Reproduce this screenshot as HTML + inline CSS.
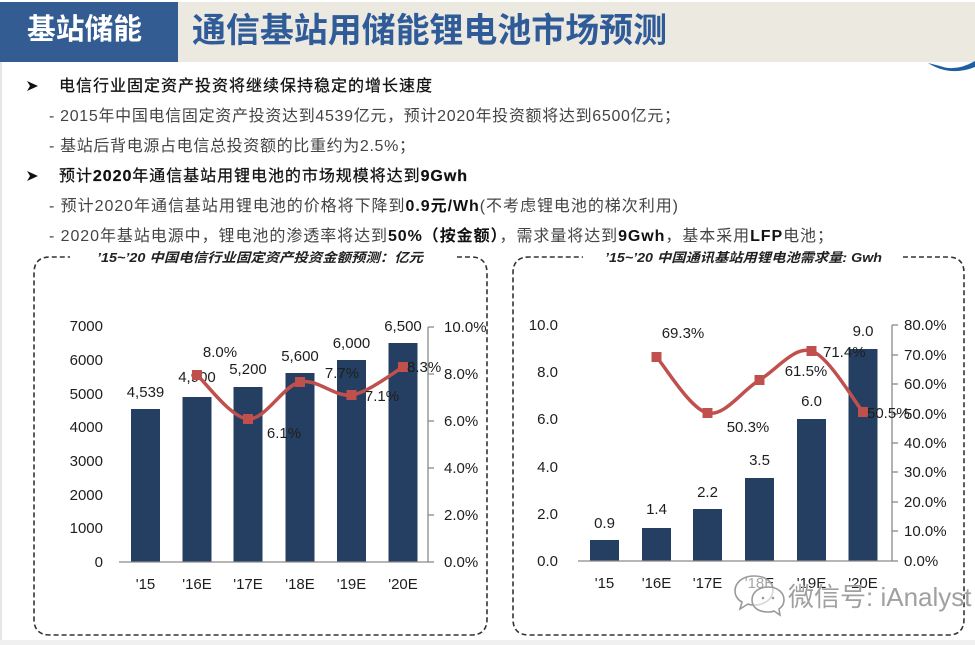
<!DOCTYPE html>
<html>
<head>
<meta charset="utf-8">
<style>
html,body{margin:0;padding:0;background:#fff;}
body{width:975px;height:645px;overflow:hidden;position:relative;}
svg{position:absolute;left:0;top:0;}
.t{font-family:"Liberation Sans","Noto Sans CJK SC",sans-serif;}
</style>
</head>
<body>
<svg width="975" height="645" viewBox="0 0 975 645" xmlns="http://www.w3.org/2000/svg">
  <!-- header -->
  <rect x="0" y="0" width="975" height="645" fill="#ffffff"/>
  <rect x="178" y="2" width="797" height="60" fill="#ECE9E1"/>
  <rect x="0" y="2" width="178" height="60" fill="#325C92"/>
  <text class="t" x="27" y="39" font-size="29" font-weight="bold" fill="#ffffff" textLength="115" lengthAdjust="spacingAndGlyphs">基站储能</text>
  <text class="t" x="192" y="42" font-size="34" font-weight="bold" fill="#2F5C98" textLength="475" lengthAdjust="spacingAndGlyphs">通信基站用储能锂电池市场预测</text>
  <path d="M928 63 Q950 77 975 67 L975 61 Q956 72 940 66 Z" fill="#1F5FA0"/>
  <rect x="0" y="62" width="2" height="583" fill="#e6e6e6"/>
  <rect x="0" y="640" width="975" height="5" fill="#f0f0f0"/>

  <!-- bullet text -->
  <g class="t" font-size="16">
    <path d="M27 81 L38 86 L27 91 L30 86 Z" fill="#111"/>
    <text x="59" y="91" fill="#111" stroke="#111" stroke-width="0.25" textLength="373" lengthAdjust="spacing">电信行业固定资产投资将继续保持稳定的增长速度</text>
    <text x="49" y="121" fill="#444" textLength="631" lengthAdjust="spacing">- 2015年中国电信固定资产投资达到4539亿元，预计2020年投资额将达到6500亿元；</text>
    <text x="49" y="151" fill="#444" textLength="366" lengthAdjust="spacing">- 基站后背电源占电信总投资额的比重约为2.5%；</text>
    <path d="M27 171 L38 176 L27 181 L30 176 Z" fill="#111"/>
    <text x="59" y="181" fill="#111" stroke="#111" stroke-width="0.25" textLength="408" lengthAdjust="spacing">预计<tspan font-weight="bold">2020</tspan>年通信基站用锂电池的市场规模将达到<tspan font-weight="bold">9Gwh</tspan></text>
    <text x="49" y="211" fill="#444" textLength="629" lengthAdjust="spacing">- 预计2020年通信基站用锂电池的价格将下降到<tspan font-weight="bold" fill="#111">0.9元/Wh</tspan>(不考虑锂电池的梯次利用)</text>
    <text x="49" y="241" fill="#444" textLength="784" lengthAdjust="spacing">- 2020年基站电源中，锂电池的渗透率将达到<tspan font-weight="bold" fill="#111">50%（按金额）</tspan>，需求量将达到<tspan font-weight="bold" fill="#111">9Gwh</tspan>，基本采用<tspan font-weight="bold" fill="#111">LFP</tspan>电池；</text>
  </g>

  <!-- dashed boxes -->
  <path d="M457 257 L471 257 Q487 257 487 273 L487 619 Q487 635 471 635 L50 635 Q34 635 34 619 L34 273 Q34 257 50 257 L70 257" fill="none" stroke="#333" stroke-width="1.6" stroke-dasharray="5 3"/>
  <path d="M903 257 L948 257 Q964 257 964 273 L964 619 Q964 635 948 635 L529 635 Q513 635 513 619 L513 273 Q513 257 529 257 L583 257" fill="none" stroke="#333" stroke-width="1.6" stroke-dasharray="5 3"/>
  <text class="t" x="97" y="262" font-size="13" font-weight="bold" font-style="italic" fill="#222" textLength="326" lengthAdjust="spacingAndGlyphs">’15~’20  中国电信行业固定资产投资金额预测：亿元</text>
  <text class="t" x="605" y="262" font-size="13" font-weight="bold" font-style="italic" fill="#222" textLength="277" lengthAdjust="spacingAndGlyphs">’15~’20 中国通讯基站用锂电池需求量: Gwh</text>

  <!-- chart 1 -->
  <g fill="#243F61">
    <rect x="131" y="409" width="29" height="153"/>
    <rect x="182.5" y="397" width="29" height="165"/>
    <rect x="233.5" y="387" width="29" height="175"/>
    <rect x="285.5" y="373" width="29" height="189"/>
    <rect x="337" y="360" width="29" height="202"/>
    <rect x="388.5" y="343" width="29" height="219"/>
  </g>
  <line x1="119" y1="562" x2="428" y2="562" stroke="#8a8a8a" stroke-width="1.3"/>
  <line x1="428" y1="327" x2="428" y2="562" stroke="#8a8a8a" stroke-width="1.3"/>
  <g stroke="#8a8a8a" stroke-width="1.3">
    <line x1="428" y1="327" x2="434" y2="327"/>
    <line x1="428" y1="374" x2="434" y2="374"/>
    <line x1="428" y1="421" x2="434" y2="421"/>
    <line x1="428" y1="468" x2="434" y2="468"/>
    <line x1="428" y1="515" x2="434" y2="515"/>
    <line x1="428" y1="562" x2="434" y2="562"/>
  </g>
  <g class="t" font-size="15" fill="#1e1e1e" text-anchor="end">
    <text x="103" y="331">7000</text>
    <text x="103" y="365">6000</text>
    <text x="103" y="399">5000</text>
    <text x="103" y="432">4000</text>
    <text x="103" y="466">3000</text>
    <text x="103" y="500">2000</text>
    <text x="103" y="533">1000</text>
    <text x="103" y="567">0</text>
  </g>
  <g class="t" font-size="15" fill="#1e1e1e">
    <text x="444" y="332">10.0%</text>
    <text x="444" y="379">8.0%</text>
    <text x="444" y="426">6.0%</text>
    <text x="444" y="473">4.0%</text>
    <text x="444" y="520">2.0%</text>
    <text x="444" y="567">0.0%</text>
  </g>
  <g class="t" font-size="15" fill="#1e1e1e" text-anchor="middle">
    <text x="145.5" y="589">'15</text>
    <text x="197" y="589">'16E</text>
    <text x="248" y="589">'17E</text>
    <text x="300" y="589">'18E</text>
    <text x="351.5" y="589">'19E</text>
    <text x="403" y="589">'20E</text>
    <text x="145.5" y="397">4,539</text>
    <text x="197" y="382">4,900</text>
    <text x="248" y="374">5,200</text>
    <text x="300" y="361">5,600</text>
    <text x="351.5" y="348">6,000</text>
    <text x="403" y="331">6,500</text>
  </g>
  <path d="M197 375 C205.5 382.3 230.8 417.8 248 419 C265.2 420.2 282.75 386 300 382 C317.25 378 334.3 397.5 351.5 395 C368.7 392.5 394.4 371.7 403 367" fill="none" stroke="#C0504D" stroke-width="3.5"/>
  <g fill="#C0504D">
    <rect x="192" y="370" width="10" height="10"/>
    <rect x="243" y="414" width="10" height="10"/>
    <rect x="295" y="377" width="10" height="10"/>
    <rect x="346.5" y="390" width="10" height="10"/>
    <rect x="398" y="362" width="10" height="10"/>
  </g>
  <g class="t" font-size="15" fill="#1e1e1e" text-anchor="middle">
    <text x="220" y="357">8.0%</text>
    <text x="284" y="438">6.1%</text>
    <text x="342" y="378">7.7%</text>
    <text x="382" y="401">7.1%</text>
    <text x="407" y="372" text-anchor="start">8.3%</text>
  </g>

  <!-- chart 2 -->
  <g fill="#243F61">
    <rect x="590" y="540" width="29" height="21"/>
    <rect x="642" y="528" width="29" height="33"/>
    <rect x="693" y="509" width="29" height="52"/>
    <rect x="745" y="478" width="29" height="83"/>
    <rect x="797" y="419" width="29" height="142"/>
    <rect x="848.5" y="349" width="29" height="212"/>
  </g>
  <line x1="578" y1="561" x2="892" y2="561" stroke="#8a8a8a" stroke-width="1.3"/>
  <line x1="892" y1="325" x2="892" y2="561" stroke="#8a8a8a" stroke-width="1.3"/>
  <g stroke="#8a8a8a" stroke-width="1.3">
    <line x1="892" y1="325" x2="898" y2="325"/>
    <line x1="892" y1="355" x2="898" y2="355"/>
    <line x1="892" y1="384" x2="898" y2="384"/>
    <line x1="892" y1="414" x2="898" y2="414"/>
    <line x1="892" y1="443" x2="898" y2="443"/>
    <line x1="892" y1="472" x2="898" y2="472"/>
    <line x1="892" y1="502" x2="898" y2="502"/>
    <line x1="892" y1="531" x2="898" y2="531"/>
    <line x1="892" y1="561" x2="898" y2="561"/>
  </g>
  <g class="t" font-size="15" fill="#1e1e1e" text-anchor="end">
    <text x="558" y="330">10.0</text>
    <text x="558" y="377">8.0</text>
    <text x="558" y="424">6.0</text>
    <text x="558" y="472">4.0</text>
    <text x="558" y="519">2.0</text>
    <text x="558" y="566">0.0</text>
  </g>
  <g class="t" font-size="15" fill="#1e1e1e">
    <text x="904" y="330">80.0%</text>
    <text x="904" y="360">70.0%</text>
    <text x="904" y="389">60.0%</text>
    <text x="904" y="419">50.0%</text>
    <text x="904" y="448">40.0%</text>
    <text x="904" y="477">30.0%</text>
    <text x="904" y="507">20.0%</text>
    <text x="904" y="536">10.0%</text>
    <text x="904" y="566">0.0%</text>
  </g>
  <g class="t" font-size="15" fill="#1e1e1e" text-anchor="middle">
    <text x="604.5" y="588">'15</text>
    <text x="656.5" y="588">'16E</text>
    <text x="707.5" y="588">'17E</text>
    <text x="759.5" y="588">'18E</text>
    <text x="811.5" y="588">'19E</text>
    <text x="863" y="588">'20E</text>
    <text x="604.5" y="528">0.9</text>
    <text x="656.5" y="514">1.4</text>
    <text x="707.5" y="497">2.2</text>
    <text x="759.5" y="465">3.5</text>
    <text x="811.5" y="406">6.0</text>
    <text x="863" y="336">9.0</text>
  </g>
  <path d="M656.5 357 C665 366.3 690.3 409.2 707.5 413 C724.7 416.8 742.2 390.3 759.5 380 C776.8 369.7 794.25 345.7 811.5 351 C828.75 356.3 854.4 401.8 863 412" fill="none" stroke="#C0504D" stroke-width="3.5"/>
  <g fill="#C0504D">
    <rect x="651.5" y="352" width="10" height="10"/>
    <rect x="702.5" y="408" width="10" height="10"/>
    <rect x="754.5" y="375" width="10" height="10"/>
    <rect x="806.5" y="346" width="10" height="10"/>
    <rect x="858" y="407" width="10" height="10"/>
  </g>
  <g class="t" font-size="15" fill="#1e1e1e" text-anchor="middle">
    <text x="683" y="338">69.3%</text>
    <text x="748" y="432">50.3%</text>
    <text x="806" y="376">61.5%</text>
    <text x="823" y="357" text-anchor="start">71.4%</text>
    <text x="867" y="418" text-anchor="start">50.5%</text>
  </g>

  <!-- watermark -->
  <g fill="#ffffff" fill-opacity="0.6" stroke="#9a9a9a" stroke-width="1.6">
    <path d="M754 576 C742 576 735 583 735 591 C735 596 738 600 742 602 L740 609 L748 604 C750 605 752 605 754 605 C766 605 773 598 773 590 C773 582 766 576 754 576 Z"/>
    <path d="M768 587 C758 587 752 593 752 600 C752 607 758 612 768 612 C770 612 772 612 774 611 L780 615 L779 609 C782 607 784 604 784 600 C784 593 778 587 768 587 Z"/>
  </g>
  <g fill="#9a9a9a">
    <circle cx="763" cy="598" r="1.3"/>
    <circle cx="773" cy="598" r="1.3"/>
  </g>
  <text class="t" x="788" y="606" font-size="26" fill="#a0a0a0" stroke="#ffffff" stroke-width="0.6" paint-order="stroke">微信号: iAnalyst</text>
</svg>
</body>
</html>
